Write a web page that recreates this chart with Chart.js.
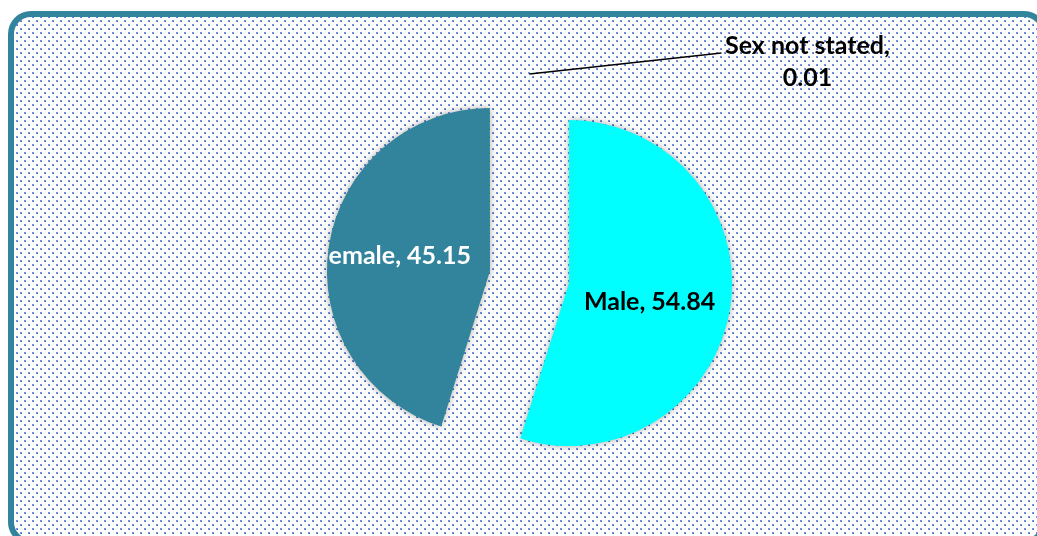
<!DOCTYPE html>
<html>
<head>
<meta charset="utf-8">
<script src="https://cdn.jsdelivr.net/npm/chart.js@4.4.1/dist/chart.umd.min.js"></script>
<style>
  html, body { margin: 0; padding: 0; background: #fff; }
  #wrap { width: 1037px; height: 536px; position: relative; }
</style>
</head>
<body>
<div id="wrap"><canvas id="sexPie"></canvas></div>
<script>
const categories = ['Male', 'Female', 'Sex not stated'];
const shares = [54.84, 45.15, 0.01];

const EXPLODE = 40;      // how far each slice is pulled out
const LABEL_FONT = 'bold 25px Lato';
// where the in-slice labels sit: fraction of radius along the bisector, plus a nudge down
const labelPlace = [{ k: 0.5, dy: 7 }, { k: 0.6, dy: 0 }];

// dotted fill like the office "dotted 20%" pattern
function dotPattern(ctx) {
  const tile = document.createElement('canvas');
  tile.width = 8; tile.height = 8;
  const t = tile.getContext('2d');
  t.fillStyle = '#ffffff';
  t.fillRect(0, 0, 8, 8);
  t.fillStyle = 'rgba(60,105,200,0.7)';
  t.fillRect(0, 0, 2, 2);
  t.fillRect(4, 4, 2, 2);
  t.fillStyle = '#3a68c0';
  t.fillRect(1, 1, 1, 1);
  t.fillRect(5, 5, 1, 1);
  return ctx.createPattern(tile, 'repeat');
}

function roundRect(ctx, x, y, w, h, r) {
  ctx.beginPath();
  ctx.moveTo(x + r, y);
  ctx.arcTo(x + w, y, x + w, y + h, r);
  ctx.arcTo(x + w, y + h, x, y + h, r);
  ctx.arcTo(x, y + h, x, y, r);
  ctx.arcTo(x, y, x + w, y, r);
  ctx.closePath();
}

const backdrop = {
  id: 'backdrop',
  beforeDraw(chart) {
    const ctx = chart.ctx;
    ctx.save();
    ctx.fillStyle = '#fff';
    ctx.fillRect(0, 0, chart.width, chart.height);
    roundRect(ctx, 11, 14, 1033, 528, 20);
    ctx.fillStyle = dotPattern(ctx);
    ctx.fill();
    ctx.lineWidth = 6;
    ctx.strokeStyle = '#31849b';
    ctx.stroke();
    ctx.restore();
  }
};

// draw the arcs pulled out along their mid angle (a true explode)
const explode = {
  id: 'explode',
  beforeDatasetsDraw(chart) {
    const ctx = chart.ctx;
    const meta = chart.getDatasetMeta(0);
    ctx.save();
    ctx.shadowColor = 'rgba(0,0,0,0.35)';
    ctx.shadowBlur = 7;
    meta.data.forEach(arc => {
      const mid = (arc.startAngle + arc.endAngle) / 2;
      ctx.save();
      ctx.translate(Math.cos(mid) * EXPLODE, Math.sin(mid) * EXPLODE);
      arc.draw(ctx);
      ctx.restore();
    });
    ctx.restore();
    return false;
  },
  afterDraw(chart) {
    const ctx = chart.ctx;
    const meta = chart.getDatasetMeta(0);
    ctx.save();
    ctx.font = LABEL_FONT;
    ctx.textAlign = 'center';
    ctx.textBaseline = 'middle';
    meta.data.forEach((arc, i) => {
      const mid = (arc.startAngle + arc.endAngle) / 2;
      const cx = arc.x + Math.cos(mid) * EXPLODE;
      const cy = arc.y + Math.sin(mid) * EXPLODE;
      const r = arc.outerRadius;
      if (shares[i] < 1) {
        // tiny slice: leader line and label outside
        const sx = cx + Math.cos(mid) * r;
        const sy = cy + Math.sin(mid) * r;
        const ex = sx + 192, ey = sy - 21;
        ctx.strokeStyle = '#000';
        ctx.lineWidth = 1.5;
        ctx.beginPath();
        ctx.moveTo(sx, sy);
        ctx.lineTo(ex, ey);
        ctx.stroke();
        ctx.fillStyle = '#000';
        ctx.fillText(categories[i] + ',', ex + 86, ey - 7);
        ctx.fillText(String(shares[i]), ex + 86, ey + 25);
        return;
      }
      const p = labelPlace[i];
      const lx = cx + Math.cos(mid) * r * p.k;
      const ly = cy + Math.sin(mid) * r * p.k + p.dy;
      ctx.save();
      ctx.beginPath();
      ctx.moveTo(cx, cy);
      ctx.arc(cx, cy, r, arc.startAngle, arc.endAngle);
      ctx.closePath();
      ctx.clip();
      ctx.fillStyle = i === 1 ? '#ffffff' : '#000000';
      ctx.fillText(categories[i] + ', ' + shares[i], lx, ly);
      ctx.restore();
    });
    ctx.restore();
  }
};

const ctx = document.getElementById('sexPie').getContext('2d');
const sexChart = new Chart(ctx, {
  type: 'pie',
  data: {
    labels: categories,
    datasets: [{
      data: shares,
      backgroundColor: ['#00ffff', '#31849b', '#31849b'],
      borderWidth: 0
    }]
  },
  options: {
    responsive: true,
    maintainAspectRatio: false,
    animation: false,
    radius: 163,
    layout: { padding: { left: 22, right: 0, top: 18, bottom: 0 } },
    plugins: {
      legend: { display: false },
      tooltip: { enabled: false }
    }
  },
  plugins: [backdrop, explode]
});
</script>
</body>
</html>
